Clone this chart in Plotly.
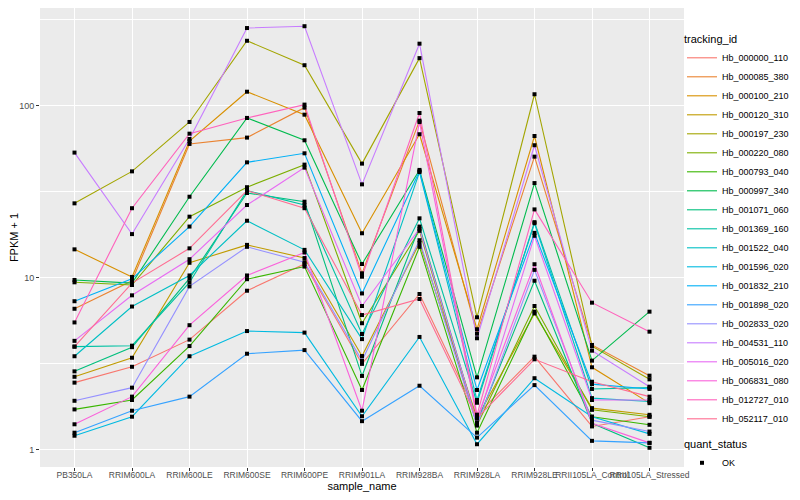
import plotly.graph_objects as go

samples = ["PB350LA", "RRIM600LA", "RRIM600LE", "RRIM600SE", "RRIM600PE", "RRIM901LA",
           "RRIM928BA", "RRIM928LA", "RRIM928LE", "RRII105LA_Control", "RRII105LA_Stressed"]

tracking_ids = ["Hb_000000_110", "Hb_000085_380", "Hb_000100_210", "Hb_000120_310", "Hb_000197_230",
                "Hb_000220_080", "Hb_000793_040", "Hb_000997_340", "Hb_001071_060", "Hb_001369_160",
                "Hb_001522_040", "Hb_001596_020", "Hb_001832_210", "Hb_001898_020", "Hb_002833_020",
                "Hb_004531_110", "Hb_005016_020", "Hb_006831_080", "Hb_012727_010", "Hb_052117_010"]

hb_000000_110 = [2.46, 3.04, 4.37, 8.4, 12.0, 3.16, 8.04, 1.60, 3.48, 1.37, 1.56]
hb_000085_380 = [6.6, 9.6, 59.7, 65, 97, 10.6, 81.5, 4.73, 50.4, 4.07, 2.70]
hb_000100_210 = [14.6, 10.1, 62, 120, 88.3, 18.1, 68, 5.02, 66.4, 3.02, 1.87]
hb_000120_310 = [2.66, 3.43, 12.2, 15.5, 13.0, 3.51, 15.9, 1.53, 6.2, 1.75, 1.60]
hb_000197_230 = [27.0, 41.4, 80.1, 237, 171, 45.9, 188, 5.89, 116, 4.0, 2.57]
hb_000220_080 = [9.4, 9.07, 22.6, 33.5, 45.3, 5.44, 18.7, 1.39, 6.85, 1.71, 1.56]
hb_000793_040 = [1.72, 1.95, 4.01, 9.8, 11.6, 2.23, 15.1, 1.26, 6.35, 1.56, 1.40]
hb_000997_340 = [9.7, 9.3, 29.5, 84.5, 62.7, 12.0, 42.2, 2.64, 35.4, 3.30, 6.35]
hb_001071_060 = [2.86, 3.95, 9.9, 31, 27.6, 2.69, 19.8, 1.44, 9.6, 1.43, 1.03]
hb_001369_160 = [3.98, 4.03, 9.4, 32, 26.4, 4.71, 22.1, 1.88, 21.0, 2.26, 2.30]
hb_001522_040 = [3.5, 6.8, 10.3, 21.4, 14.5, 4.4, 41, 1.95, 20.7, 2.0, 1.91]
hb_001596_020 = [1.21, 1.56, 3.5, 4.9, 4.8, 1.57, 4.53, 1.08, 2.61, 1.56, 1.24]
hb_001832_210 = [7.3, 9.85, 19.8, 46.7, 52.7, 8.1, 41.5, 2.23, 18.2, 2.41, 2.26]
hb_001898_020 = [1.26, 1.69, 2.04, 3.62, 3.8, 1.47, 2.36, 1.18, 2.38, 1.13, 1.10]
hb_002833_020 = [1.93, 2.30, 8.9, 15.1, 12.3, 3.30, 16.5, 1.39, 11.1, 1.49, 1.28]
hb_004531_110 = [53.2, 17.9, 63.8, 281, 288, 34.8, 228, 4.45, 58.7, 3.77, 2.33]
hb_005016_020 = [4.3, 7.9, 12.8, 26.4, 43.5, 6.85, 19.2, 1.44, 17.5, 1.95, 1.95]
hb_006831_080 = [1.41, 2.04, 5.3, 10.3, 14.0, 1.69, 80, 1.53, 11.97, 1.43, 1.10]
hb_012727_010 = [5.5, 25.3, 68.5, 84.5, 101, 10.13, 90.3, 1.60, 24.9, 7.16, 4.86]
hb_052117_010 = [3.98, 9.3, 14.8, 32, 25.3, 6.07, 7.52, 1.53, 3.36, 2.49, 2.04]

series_values = [hb_000000_110, hb_000085_380, hb_000100_210, hb_000120_310, hb_000197_230,
                 hb_000220_080, hb_000793_040, hb_000997_340, hb_001071_060, hb_001369_160,
                 hb_001522_040, hb_001596_020, hb_001832_210, hb_001898_020, hb_002833_020,
                 hb_004531_110, hb_005016_020, hb_006831_080, hb_012727_010, hb_052117_010]

colors = ["#F8766D", "#EA8331", "#D89000", "#C09B00", "#A3A500", "#7CAE00", "#39B600", "#00BB4E",
          "#00BF7D", "#00C1A3", "#00BFC4", "#00BAE0", "#00B0F6", "#35A2FF", "#9590FF", "#C77CFF",
          "#E76BF3", "#FA62DB", "#FF62BC", "#FF6C91"]

fig = go.Figure()
for name, vals, col in zip(tracking_ids, series_values, colors):
    fig.add_trace(go.Scatter(x=samples, y=vals, mode="lines", name=name,
                             line=dict(color=col, width=1.1), legend="legend"))

all_x, all_y = [], []
for vals in series_values:
    all_x += samples
    all_y += vals
fig.add_trace(go.Scatter(x=all_x, y=all_y, mode="markers", name="OK",
                         marker=dict(symbol="square", size=4, color="black"),
                         legend="legend2"))

font = "Liberation Sans, Arial, sans-serif"
fig.update_layout(
    width=800, height=500,
    margin=dict(l=32, r=124, t=0, b=41, autoexpand=False),
    paper_bgcolor="white", plot_bgcolor="#EBEBEB",
    font=dict(family=font, size=9, color="#4D4D4D"),
    showlegend=True,
    legend=dict(title=dict(text="tracking_id", font=dict(size=11, color="black")),
                xref="container", yref="container",
                x=0.8425, y=0.958, xanchor="left", yanchor="top", maxheight=470,
                font=dict(size=9, color="black"), tracegroupgap=0,
                bgcolor="rgba(0,0,0,0)", itemwidth=30),
    legend2=dict(title=dict(text="quant_status", font=dict(size=11, color="black")),
                 xref="container", yref="container",
                 x=0.8425, y=0.148, xanchor="left", yanchor="top",
                 font=dict(size=9, color="black"), bgcolor="rgba(0,0,0,0)"),
    xaxis=dict(title=dict(text="sample_name", font=dict(size=11, color="black"), standoff=2),
               type="category", range=[-0.6, 10.6], showgrid=True, gridcolor="white", gridwidth=1.1,
               ticks="outside", ticklen=3, tickcolor="#333333", tickangle=0, automargin=False,
               ticklabelstandoff=-3,
               tickfont=dict(size=8.5, color="#4D4D4D"), zeroline=False),
    yaxis=dict(title=dict(text="FPKM + 1", font=dict(size=11, color="black"), standoff=4),
               type="log", range=[-0.0987, 2.565], tickvals=[1, 10, 100], ticktext=["1", "10", "100"],
               showgrid=True, gridcolor="white", gridwidth=1.1, automargin=False,
               ticks="outside", ticklen=3, tickcolor="#333333",
               tickfont=dict(size=9, color="#4D4D4D"), zeroline=False,
               minor=dict(tickvals=[10 ** 0.5, 10 ** 1.5, 10 ** 2.5], showgrid=True,
                          gridcolor="white", gridwidth=0.55, ticks="")),
)

fig.write_html("out.html")
